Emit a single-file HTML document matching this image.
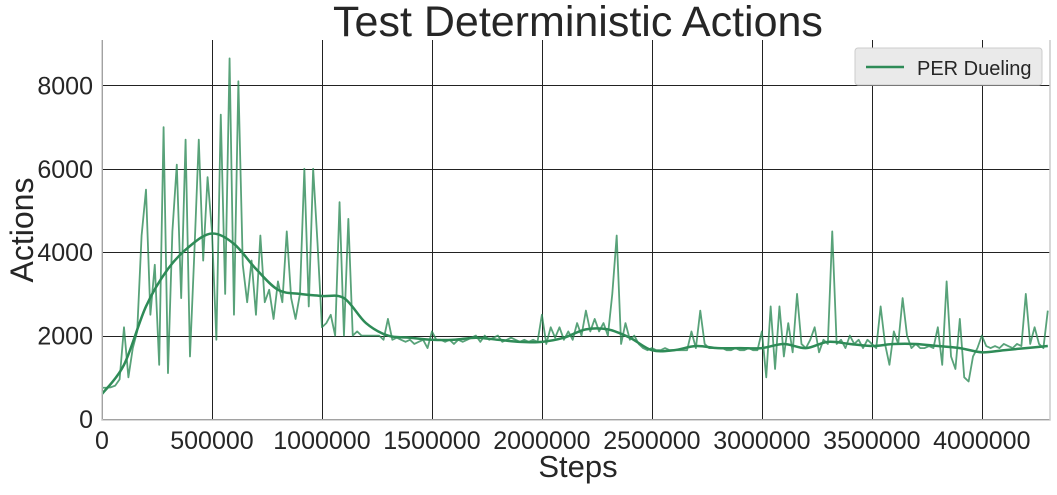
<!DOCTYPE html>
<html><head><meta charset="utf-8"><style>
body{margin:0;background:#fff;}
svg text{font-family:"Liberation Sans",Arial,sans-serif;fill:#262626;}
</style></head><body>
<svg id="chart" width="1057" height="490" xmlns="http://www.w3.org/2000/svg">
<defs><clipPath id="plotclip"><rect x="102" y="40" width="948" height="380"/></clipPath></defs>
<text x="578" y="36" font-size="43" text-anchor="middle">Test Deterministic Actions</text>
<g id="grid"></g>
<g id="series" clip-path="url(#plotclip)"></g>
<g id="axes"></g>
<text x="578" y="477" font-size="31" text-anchor="middle">Steps</text>
<text transform="translate(33,230) rotate(-90)" font-size="32" text-anchor="middle">Actions</text>
<g>
<rect x="855" y="48" width="187" height="37" rx="3" fill="#eaeaea" stroke="#cccccc"/>
<line x1="866" y1="67" x2="904" y2="67" stroke="#2e8b57" stroke-width="2.5"/>
<text x="917" y="75" font-size="20">PER Dueling</text>
</g>
</svg>
<script>
const rawStep = 20000;
const rawValues = [750,750,760,800,950,2200,1000,1700,2100,4400,5500,2500,3700,1300,7000,1100,4500,6100,2900,6700,1500,4000,6700,3800,5800,4500,1900,7300,3000,8650,2500,8100,3700,2800,3800,2500,4400,2800,3100,2400,3300,2800,4500,2900,2400,3000,6000,2700,6000,4200,2200,2300,2500,2000,5200,2000,4800,2000,2100,2000,2000,2000,2000,2000,1900,2400,1900,1950,1900,1850,1900,1800,1850,1900,1700,2100,1900,1900,1850,1900,1800,1900,1850,1900,1950,2000,1850,2000,1900,1950,2000,1850,1900,1950,1900,1850,1900,1850,1900,1850,2500,1800,2200,1950,2200,1900,2100,1900,2300,2000,2600,2100,2400,2100,2300,2000,3000,4400,1800,2300,1900,2000,1800,1700,1650,1700,1650,1650,1700,1650,1650,1650,1650,1650,2100,1700,2600,1800,1700,1700,1700,1700,1650,1650,1700,1650,1650,1700,1650,1650,2100,1000,2700,1200,2700,1500,2300,1600,3000,1800,1700,1900,2200,1600,1900,1800,4500,1800,1900,1700,2000,1800,1900,1700,1900,1800,1700,2700,1800,1300,2100,1800,2900,2000,1700,1800,1700,1700,1750,1700,2200,1300,3300,1500,1200,2400,1000,900,1500,1700,2000,1750,1700,1750,1700,1800,1750,1700,1800,1750,3000,1800,2200,1800,1700,2600];
const smoothStep = 100000;
const smoothValues = [600,1300,2700,3600,4150,4450,4200,3600,3100,3000,2950,2900,2300,2000,1950,1900,1900,1950,1900,1850,1850,1950,2150,2150,1950,1650,1650,1750,1700,1700,1700,1800,1700,1850,1800,1750,1800,1800,1750,1700,1600,1650,1700,1750];
const xTicks = [0,500000,1000000,1500000,2000000,2500000,3000000,3500000,4000000];
const yTicks = [0,2000,4000,6000,8000];
const L=102,R=1050,T=40,B=419,XMAX=4310000,YMAX=9090;
const X=v=>L+(v/XMAX)*(R-L), Y=v=>B-(v/YMAX)*(B-T);
const NS="http://www.w3.org/2000/svg";
function mk(tag,attrs,parent){const e=document.createElementNS(NS,tag);for(const k in attrs)e.setAttribute(k,attrs[k]);parent.appendChild(e);return e;}
const grid=document.getElementById('grid'),axes=document.getElementById('axes'),series=document.getElementById('series');
xTicks.forEach(t=>{
  const px=Math.round(X(t))+0.5;
  const l=mk('line',{x1:px,x2:px,y1:T,y2:B,stroke:'#222',"stroke-width":1},grid);
  
  
  const tx=mk('text',{x:X(t),y:449,"font-size":25,"text-anchor":"middle"},axes);
  tx.textContent=t;
  
  
});
yTicks.forEach(t=>{
  const py=Math.round(Y(t))+0.5;
  const l=mk('line',{x1:L,x2:R,y1:py,y2:py,stroke:'#222',"stroke-width":1},grid);
  
  
  const tx=mk('text',{x:93,y:Y(t)+9,"font-size":25,"text-anchor":"end"},axes);
  tx.textContent=t;
  
  
});
const spines=mk('path',{d:`M${L},${T}V${B+1}H${R}V${T}`,fill:'none',stroke:'#cccccc',"stroke-width":1.5},axes);


const rawPts=rawValues.map((v,i)=>[X(i*rawStep),Y(v)]);
const raw=mk('polyline',{points:rawPts.map(p=>p.join(',')).join(' '),fill:'none',stroke:'#2e8b57',"stroke-opacity":0.8,"stroke-width":1.8,"stroke-linejoin":"round"},series);


const smPts=smoothValues.map((v,i)=>[X(i*smoothStep),Y(v)]);
let d=`M${smPts[0][0]},${smPts[0][1]}`;
for(let i=0;i<smPts.length-1;i++){
  const p0=smPts[Math.max(0,i-1)],p1=smPts[i],p2=smPts[i+1],p3=smPts[Math.min(smPts.length-1,i+2)];
  d+=` C${p1[0]+(p2[0]-p0[0])/6},${p1[1]+(p2[1]-p0[1])/6} ${p2[0]-(p3[0]-p1[0])/6},${p2[1]-(p3[1]-p1[1])/6} ${p2[0]},${p2[1]}`;
}
const sm=mk('path',{d:d,fill:'none',stroke:'#2e8b57',"stroke-width":2.5},series);


</script>
</body></html>
